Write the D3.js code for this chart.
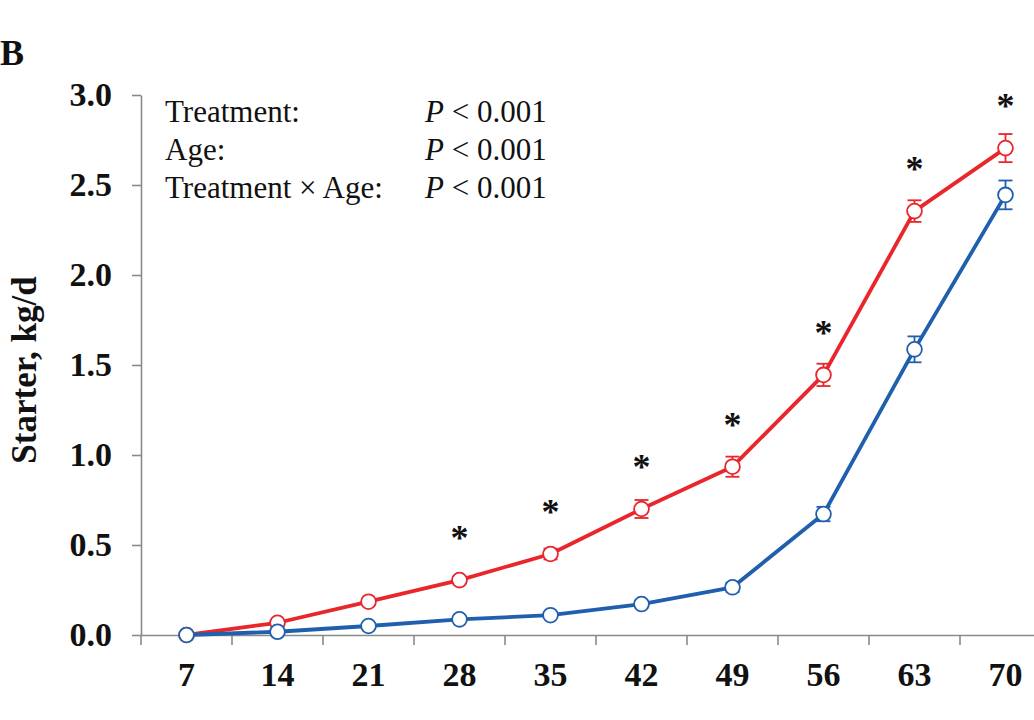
<!DOCTYPE html>
<html>
<head>
<meta charset="utf-8">
<script src="https://cdn.jsdelivr.net/npm/d3@7"></script>
<style>
  html, body { margin: 0; padding: 0; background: #fff; }
  svg { display: block; }
</style>
</head>
<body>
<div id="chart"></div>
<script>
// ---- data ----
const ages = [7, 14, 21, 28, 35, 42, 49, 56, 63, 70];
const redValues  = [0.000, 0.068, 0.185, 0.305, 0.450, 0.700, 0.935, 1.445, 2.355, 2.705];
const redErrors  = [0.000, 0.010, 0.015, 0.020, 0.030, 0.050, 0.056, 0.062, 0.060, 0.078];
const blueValues = [0.000, 0.018, 0.050, 0.087, 0.110, 0.172, 0.265, 0.672, 1.587, 2.445];
const blueErrors = [0.000, 0.005, 0.010, 0.010, 0.015, 0.020, 0.025, 0.040, 0.072, 0.080];
const significant = [false, false, false, true, true, true, true, true, true, true];
const yTicks = [0.0, 0.5, 1.0, 1.5, 2.0, 2.5, 3.0];
const statLabels = ["Treatment:", "Age:", "Treatment \u00d7 Age:"];
const statValues = ["0.001", "0.001", "0.001"];

// ---- layout ----
const W = 1034, H = 720;
const RED = "#e8262b", BLUE = "#1f5fae", AXIS = "#8a8a8a";
const serif = "'Liberation Serif', 'Times New Roman', serif";

const svg = d3.select("#chart").append("svg")
  .attr("width", W).attr("height", H)
  .style("font-family", serif);

const x = d3.scaleBand().domain(ages).range([141, 1051]).padding(0);
const y = d3.scaleLinear().domain([0, 3]).range([635, 95]);
const cx = d => x(d) + x.bandwidth() / 2;

// panel letter
svg.append("text").attr("x", 0).attr("y", 65)
  .attr("font-size", 36).attr("font-weight", "bold").attr("fill", "#111").text("B");

// y axis
const yAxis = svg.append("g").attr("transform", "translate(141,0)")
  .call(d3.axisLeft(y).tickValues(yTicks).tickFormat(d3.format(".1f"))
    .tickSize(9).tickSizeOuter(0).tickPadding(20));
yAxis.select(".domain").attr("stroke", AXIS).attr("stroke-width", 1.6);
yAxis.selectAll(".tick line").attr("stroke", AXIS).attr("stroke-width", 1.6);
yAxis.selectAll(".tick text").attr("font-family", serif).attr("font-size", 34)
  .attr("font-weight", "bold").attr("fill", "#111").attr("dy", "0.32em");

// x axis (labels centred, ticks at band edges)
const xAxis = svg.append("g").attr("transform", "translate(0,635)")
  .call(d3.axisBottom(x).tickSize(0).tickSizeOuter(0));
xAxis.select(".domain").attr("stroke", AXIS).attr("stroke-width", 1.6);
xAxis.selectAll(".tick text").attr("font-family", serif).attr("font-size", 34)
  .attr("font-weight", "bold").attr("fill", "#111").attr("dy", "0.71em")
  .attr("y", 27);
svg.append("g").selectAll("line").data(ages).join("line")
  .attr("x1", d => x(d)).attr("x2", d => x(d))
  .attr("y1", 635).attr("y2", 645)
  .attr("stroke", AXIS).attr("stroke-width", 1.6);

// y title
svg.append("text").attr("transform", "translate(36,370) rotate(-90)")
  .attr("text-anchor", "middle").attr("font-size", 35).attr("font-weight", "bold")
  .attr("fill", "#111").text("Starter, kg/d");

// stats text
const stats = svg.append("g").attr("font-size", 31).attr("fill", "#111");
statLabels.forEach((s, i) => {
  stats.append("text").attr("x", 165).attr("y", 122 + i * 38).text(s);
  const t = stats.append("text").attr("x", 425).attr("y", 122 + i * 38);
  t.append("tspan").attr("font-style", "italic").text("P");
  t.append("tspan").text(" < " + statValues[i]);
});

// series drawing
function drawSeries(values, errors, color) {
  const g = svg.append("g");
  const line = d3.line().x((d, i) => cx(ages[i])).y(d => y(d));
  g.append("path").datum(values).attr("d", line)
    .attr("fill", "none").attr("stroke", color).attr("stroke-width", 3.8)
    .attr("stroke-linejoin", "round");
  const eb = g.append("g").attr("stroke", color).attr("stroke-width", 1.8);
  values.forEach((v, i) => {
    if (errors[i] <= 0) return;
    const xc = cx(ages[i]);
    eb.append("line").attr("x1", xc).attr("x2", xc).attr("y1", y(v - errors[i])).attr("y2", y(v + errors[i]));
    eb.append("line").attr("x1", xc - 7).attr("x2", xc + 7).attr("y1", y(v + errors[i])).attr("y2", y(v + errors[i]));
    eb.append("line").attr("x1", xc - 7).attr("x2", xc + 7).attr("y1", y(v - errors[i])).attr("y2", y(v - errors[i]));
  });
  g.append("g").selectAll("circle").data(values).join("circle")
    .attr("cx", (d, i) => cx(ages[i])).attr("cy", d => y(d)).attr("r", 7.4)
    .attr("fill", "#fff").attr("stroke", color).attr("stroke-width", 1.8);
}
drawSeries(redValues, redErrors, RED);
drawSeries(blueValues, blueErrors, BLUE);

// significance stars
svg.append("g").selectAll("text").data(ages.filter((a, i) => significant[i])).join("text")
  .attr("x", d => cx(d)).attr("y", d => y(redValues[ages.indexOf(d)]) - 46 + 16)
  .attr("text-anchor", "middle").attr("font-size", 36).attr("font-weight", "bold")
  .attr("fill", "#111").text("*");
</script>
</body>
</html>
